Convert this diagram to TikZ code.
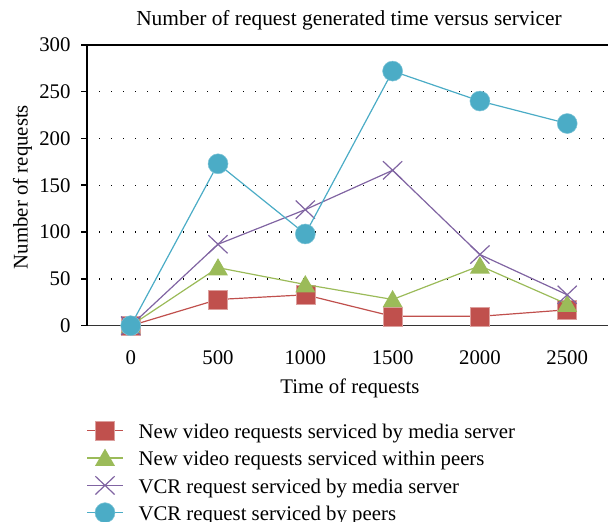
\documentclass[tikz,border=0pt]{standalone}
\usepackage{fontspec}
\setmainfont{Liberation Serif}
\usetikzlibrary{positioning,shapes.geometric,shapes.misc}
\definecolor{mediared}{HTML}{C0504D}
\definecolor{peergreen}{HTML}{9BBB59}
\definecolor{vcrpurple}{HTML}{8064A2}
\definecolor{vcrblue}{HTML}{4BACC6}
\newcommand\catsep{500}
\newcommand\legx{87.3}

\begin{document}
\begin{tikzpicture}[x=1pt,y=1pt,
    every node/.style={font=\fontsize{20.8}{24}\selectfont},
    axisline/.style={line width=1.6pt,black!80},
    gridline/.style={line width=1.3pt,dash pattern=on 1.3pt off 10.7pt},
    series/.style={line width=1.2pt},
    sqmark/.style={rectangle,fill=mediared,draw=mediared!55!white,line width=0.6pt,minimum size=19pt,inner sep=0pt},
    trimark/.style={regular polygon,regular polygon sides=3,fill=peergreen,minimum size=23pt,inner sep=0pt,yshift=-2pt},
    xmark/.style={cross out,draw=vcrpurple,line width=1.2pt,minimum width=18pt,minimum height=17pt,inner sep=0pt},
    dotmark/.style={circle,fill=vcrblue,draw=vcrblue!70!white,line width=0.5pt,minimum size=20pt,inner sep=0pt},
    ticklabel/.style={inner sep=0pt},
    legtext/.style={inner sep=0pt,anchor=base west}
  ]
  \path[use as bounding box] (0,0) rectangle (608,522);

  \node[anchor=base,font=\fontsize{21.4}{24}\selectfont] (title) at (349,496) {Number of request generated time versus servicer};
  \node[rotate=90] (ylabel) at (22.5,335) {Number of requests};
  \node (xlabel) at (350,134) {Time of requests};

  \begin{scope}[shift={(130.7,196.3)},x=0.1746pt,y=0.936pt]
    % grid and axes
    \foreach \v in {50,100,...,250}
      \draw[gridline] (-250,\v) -- (2750,\v);
    \draw[line width=1.3pt] (-250,300) -- (2750,300);
    \draw[axisline] (-250,0) -- (2750,0);
    \draw[axisline,black] (-250,0) -- (-250,300);

    \foreach \v in {0,50,...,300} {
      \coordinate (yt\v) at (-250,\v);
      \draw[axisline,black] (yt\v) -- ++(-6pt,0);
      \node[ticklabel,left=16.3pt of yt\v] (yl\v) {\v};
    }
    \foreach \t [count=\i from 0] in {0,500,...,2500} {
      \coordinate (xt\i) at (\t,0);
      \node[ticklabel,below=24.5pt of xt\i] (xl\i) {\t};
    }

    % new video requests, media server
    \foreach \v [count=\i from 0] in {0,28,33,10,10,17}
      \coordinate (R\i) at (\catsep*\i,\v);
    \draw[series,mediared] (R0) -- (R1) -- (R2) -- (R3) -- (R4) -- (R5);
    \foreach \i in {0,...,5}
      \node[sqmark] (Rm\i) at (R\i) {};

    % new video requests, peers
    \foreach \v [count=\i from 0] in {0,62,44,28,64,23}
      \coordinate (G\i) at (\catsep*\i,\v);
    \draw[series,peergreen] (G0) -- (G1) -- (G2) -- (G3) -- (G4) -- (G5);
    \foreach \i in {0,...,5}
      \node[trimark] (Gm\i) at (G\i) {};

    % vcr requests, media server
    \foreach \v [count=\i from 0] in {0,87,124,166,76,33}
      \coordinate (P\i) at (\catsep*\i,\v);
    \draw[series,vcrpurple] (P0) -- (P1) -- (P2) -- (P3) -- (P4) -- (P5);
    \foreach \i in {0,...,5}
      \node[xmark] (Pm\i) at (P\i) {};

    % vcr requests, peers
    \foreach \v [count=\i from 0] in {0,173,98,272,240,216}
      \coordinate (B\i) at (\catsep*\i,\v);
    \draw[series,vcrblue] (B0) -- (B1) -- (B2) -- (B3) -- (B4) -- (B5);
    \foreach \i in {0,...,5}
      \node[dotmark] (Bm\i) at (B\i) {};
  \end{scope}

  % legend
  \coordinate (L1a) at (\legx,91.2);
  \coordinate (L1b) at (122.7,91.2);
  \draw[series,mediared] (L1a) -- (L1b);
  \node[sqmark] (Lm1) at (105,91.2) {};
  \node[legtext] (Lt1) at (138.3,83.5) {New video requests serviced by media server};

  \coordinate (L2a) at (\legx,63.9);
  \coordinate (L2b) at (122.7,63.9);
  \draw[series,peergreen] (L2a) -- (L2b);
  \node[trimark] (Lm2) at (105,63.9) {};
  \node[legtext] (Lt2) at (138.3,56.2) {New video requests serviced within peers};

  \coordinate (L3a) at (\legx,36.6);
  \coordinate (L3b) at (122.7,36.6);
  \draw[series,vcrpurple] (L3a) -- (L3b);
  \node[xmark] (Lm3) at (105,36.6) {};
  \node[legtext] (Lt3) at (138.3,28.9) {VCR request serviced by media server};

  \coordinate (L4a) at (\legx,9.3);
  \coordinate (L4b) at (122.7,9.3);
  \draw[series,vcrblue] (L4a) -- (L4b);
  \node[dotmark] (Lm4) at (105,9.3) {};
  \node[legtext] (Lt4) at (138.3,1.6) {VCR request serviced by peers};
\end{tikzpicture}
\end{document}
